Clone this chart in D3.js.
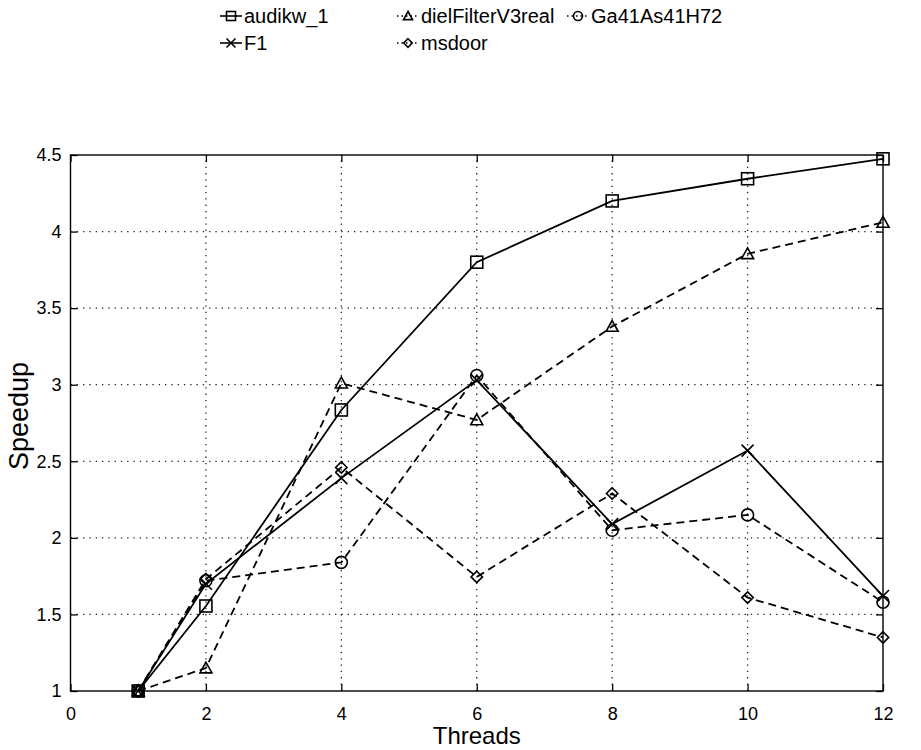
<!DOCTYPE html>
<html>
<head>
<meta charset="utf-8">
<script src="https://cdn.jsdelivr.net/npm/d3@7"></script>
<style>
  body { margin: 0; background: #fff; }
  text { font-family: "Liberation Sans", Arial, sans-serif; fill: #000; }
</style>
</head>
<body>
<svg id="chart" width="921" height="750"></svg>
<script>
const threads = [1, 2, 4, 6, 8, 10, 12]
const xTicks = [0, 2, 4, 6, 8, 10, 12]
const yTicks = [1, 1.5, 2, 2.5, 3, 3.5, 4, 4.5]
const yTickLabels = ['1', '1.5', '2', '2.5', '3', '3.5', '4', '4.5']

const names = ['audikw_1', 'dielFilterV3real', 'Ga41As41H72', 'F1', 'msdoor']
const audikw = [1, 1.555, 2.835, 3.8, 4.2, 4.345, 4.475]
const dielFilter = [1, 1.15, 3.01, 2.77, 3.38, 3.855, 4.06]
const ga41 = [1, 1.72, 1.84, 3.06, 2.05, 2.15, 1.58]
const f1 = [1, 1.7, 2.39, 3.03, 2.09, 2.57, 1.62]
const msdoor = [1, 1.73, 2.46, 1.745, 2.29, 1.61, 1.35]

const seriesValues = [audikw, dielFilter, ga41, f1, msdoor]
const dashed = [false, true, true, false, true]
const markers = ['square', 'triangle', 'circle', 'cross', 'diamond']

const svg = d3.select('#chart')
const margin = { left: 70.5, right: 38, top: 155, bottom: 59 }
const width = 921, height = 750

const x = d3.scaleLinear().domain([0, 12]).range([margin.left, width - margin.right])
const y = d3.scaleLinear().domain([1, 4.5]).range([height - margin.bottom, margin.top])

const x0 = x(0), x1 = x(12), y0 = y(1), y1 = y(4.5)

// grid
const grid = svg.append('g').attr('stroke', '#222').attr('stroke-width', 1.3)
  .attr('stroke-dasharray', '1.3,5')
grid.selectAll('.gx').data(xTicks.slice(1, -1)).enter().append('line')
  .attr('x1', (d) => x(d)).attr('x2', (d) => x(d)).attr('y1', y0).attr('y2', y1)
grid.selectAll('.gy').data(yTicks.slice(1, -1)).enter().append('line')
  .attr('x1', x0).attr('x2', x1).attr('y1', (d) => y(d)).attr('y2', (d) => y(d))

// axes
const axisB = svg.append('g').attr('transform', `translate(0,${y0})`)
  .call(d3.axisBottom(x).tickValues(xTicks).tickSize(-7).tickPadding(16))
const axisT = svg.append('g').attr('transform', `translate(0,${y1})`)
  .call(d3.axisTop(x).tickValues(xTicks).tickSize(-7).tickFormat(''))
const axisL = svg.append('g').attr('transform', `translate(${x0},0)`)
  .call(d3.axisLeft(y).tickValues(yTicks).tickSize(-7).tickPadding(9)
    .tickFormat((d, i) => yTickLabels[i]))
const axisR = svg.append('g').attr('transform', `translate(${x1},0)`)
  .call(d3.axisRight(y).tickValues(yTicks).tickSize(-7).tickFormat(''))

;[axisB, axisT, axisL, axisR].forEach((a) => {
  a.select('.domain').remove()
  a.selectAll('.tick line').attr('stroke', '#000').attr('stroke-width', 1.3)
  a.selectAll('text').style('font-size', '18px').attr('fill', '#000')
    .style('font-family', '"Liberation Sans", Arial, sans-serif')
})

// box
svg.append('rect').attr('x', x0).attr('y', y1).attr('width', x1 - x0).attr('height', y0 - y1)
  .attr('fill', 'none').attr('stroke', '#000').attr('stroke-width', 1.4)

// labels
svg.append('text').attr('x', (x0 + x1) / 2).attr('y', 744).attr('text-anchor', 'middle')
  .style('font-size', '24px').text('Threads')
svg.append('text').attr('transform', `translate(28,416) rotate(-90)`)
  .attr('text-anchor', 'middle').style('font-size', '27px').text('Speedup')

function drawMarker(g, type, cx, cy, s) {
  const m = g.append('g').attr('transform', `translate(${cx},${cy})`)
    .attr('fill', 'none').attr('stroke', '#000').attr('stroke-width', 1.6)
  if (type === 'square') {
    m.append('rect').attr('x', -s).attr('y', -s).attr('width', 2 * s).attr('height', 2 * s)
  } else if (type === 'triangle') {
    m.append('path').attr('d', `M0,${-s}L${s},${s * 0.8}L${-s},${s * 0.8}Z`)
  } else if (type === 'circle') {
    m.append('circle').attr('r', s)
  } else if (type === 'cross') {
    m.append('path').attr('d', `M${-s},${-s}L${s},${s}M${-s},${s}L${s},${-s}`)
  } else if (type === 'diamond') {
    const r = s * 0.95
    m.append('path').attr('d', `M0,${-r}L${r},0L0,${r}L${-r},0Z`)
  }
}

const line = d3.line().x((d, i) => x(threads[i])).y((d) => y(d))

seriesValues.forEach((vals, k) => {
  const g = svg.append('g')
  g.append('path').datum(vals).attr('d', line).attr('fill', 'none')
    .attr('stroke', '#000').attr('stroke-width', 1.8)
    .attr('stroke-dasharray', dashed[k] ? '8,5' : null)
  vals.forEach((v, i) => drawMarker(g, markers[k], x(threads[i]), y(v), 6))
})

// legend
const legendPos = [
  { lx: 231, ly: 16 }, { lx: 408, ly: 16 }, { lx: 578, ly: 16 },
  { lx: 231, ly: 43 }, { lx: 408, ly: 43 }
]
names.forEach((name, k) => {
  const p = legendPos[k]
  const g = svg.append('g')
  g.append('line').attr('x1', p.lx - 11).attr('x2', p.lx + 11).attr('y1', p.ly).attr('y2', p.ly)
    .attr('stroke', '#000').attr('stroke-width', 1.6)
    .attr('stroke-dasharray', dashed[k] ? '1.5,3' : null)
  drawMarker(g, markers[k], p.lx, p.ly, 4.5)
  g.append('text').attr('x', p.lx + 13).attr('y', p.ly + 7).style('font-size', '20px').text(name)
})
</script>
</body>
</html>
